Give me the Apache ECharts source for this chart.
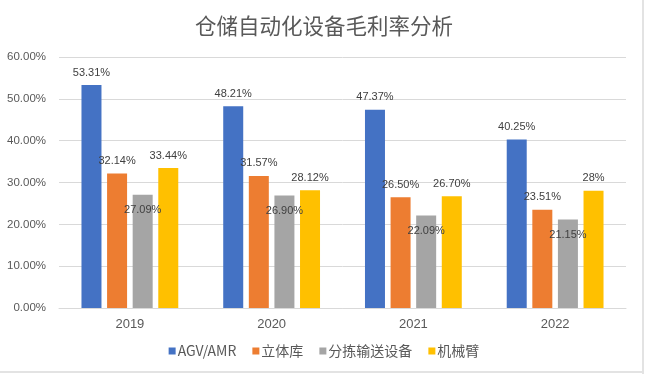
<!DOCTYPE html>
<html><head><meta charset="utf-8">
<script src="https://cdn.jsdelivr.net/npm/echarts@6/dist/echarts.min.js"></script>
<style>html,body{margin:0;padding:0;background:#fff}#c{width:648px;height:374px}</style>
</head><body><div id="c"></div>
<script>
var categories = ['2019', '2020', '2021', '2022'];
var seriesNames = ['AGV/AMR', '立体库', '分拣输送设备', '机械臂'];
var agv = [53.31, 48.21, 47.37, 40.25];
var liti = [32.14, 31.57, 26.50, 23.51];
var fenjian = [27.09, 26.90, 22.09, 21.15];
var jixie = [33.44, 28.12, 26.70, 28];
var yTicks = [0, 10, 20, 30, 40, 50, 60];

var colors = ['#4472C4', '#ED7D31', '#A5A5A5', '#FFC000'];
var font = '"Liberation Sans", Arial, sans-serif';
function fmt(p) {
  var v = p.value;
  return (Math.round(v) === v ? String(v) : v.toFixed(2)) + '%';
}
function mk(name, data, color, inside) {
  return {
    name: name, type: 'bar', data: data, barWidth: 20, barGap: '28%',
    itemStyle: { color: color },
    label: {
      show: true, position: inside ? 'insideTop' : 'top', distance: inside ? 10 : 7,
      formatter: fmt, color: '#404040', fontSize: 11, fontFamily: font
    }
  };
}
var chart = echarts.init(document.getElementById('c'));
chart.setOption({
  animation: false,
  color: colors,
  title: {
    text: '仓储自动化设备毛利率分析', left: 'center', top: 10,
    textStyle: { fontSize: 21.5, fontWeight: 'normal', color: '#595959', fontFamily: '"Noto Sans CJK SC", sans-serif' }
  },
  grid: { left: 59, right: 22, top: 57, bottom: 66 },
  legend: {
    bottom: 11, left: 'center', itemWidth: 7, itemHeight: 7, itemGap: 16,
    icon: 'rect',
    textStyle: { fontSize: 14, color: '#595959', fontFamily: '"Noto Sans CJK SC", sans-serif', padding: [0, 0, 0, -3] },
    data: seriesNames
  },
  xAxis: {
    type: 'category', data: categories,
    axisLine: { lineStyle: { color: '#d9d9d9' } },
    axisTick: { show: false },
    axisLabel: { color: '#595959', fontSize: 13, margin: 10, fontFamily: font }
  },
  yAxis: {
    type: 'value', min: yTicks[0], max: yTicks[yTicks.length - 1], interval: 10,
    axisLine: { show: false }, axisTick: { show: false },
    splitLine: { lineStyle: { color: '#d9d9d9' } },
    axisLabel: { color: '#595959', fontSize: 11.5, margin: 13, fontFamily: font,
      formatter: function (v) { return v.toFixed(2) + '%'; } }
  },
  series: [
    mk(seriesNames[0], agv, colors[0], false),
    mk(seriesNames[1], liti, colors[1], false),
    mk(seriesNames[2], fenjian, colors[2], true),
    mk(seriesNames[3], jixie, colors[3], false)
  ],
  graphic: [
    { type: 'rect', shape: { x: 642, y: 0, width: 2, height: 374 }, style: { fill: '#e3e3e3' } },
    { type: 'rect', shape: { x: 0, y: 371, width: 644, height: 2 }, style: { fill: '#e3e3e3' } }
  ]
});
</script></body></html>
